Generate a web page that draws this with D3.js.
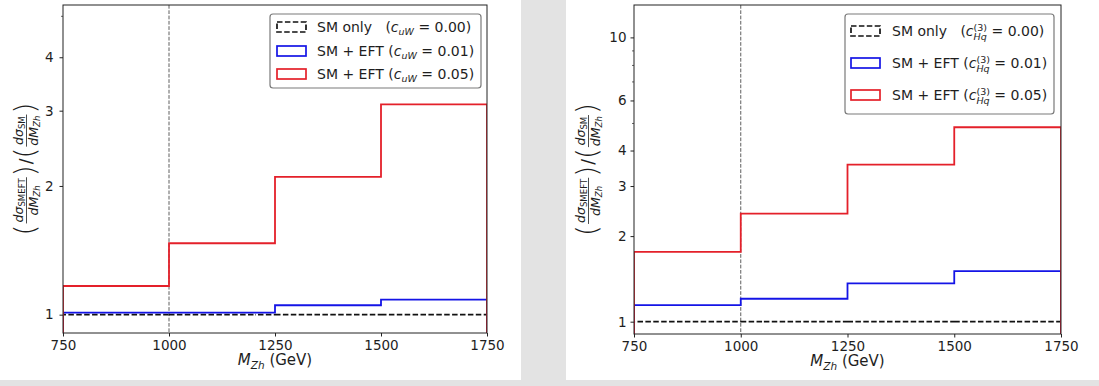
<!DOCTYPE html>
<html><head><meta charset="utf-8">
<script src="https://cdn.jsdelivr.net/npm/d3@7"></script>
<style>
html,body{margin:0;padding:0;background:#fff;}
svg{display:block;font-family:"DejaVu Sans",sans-serif;}
</style></head>
<body>
<svg id="chart" width="1099" height="386"></svg>
<script>
// ---------- data ----------
const binEdges = [750, 1000, 1250, 1500, 1750];
const xTicks = [750, 1000, 1250, 1500, 1750];
const cutLine = 1000;

const leftSM   = [1.0, 1.0, 1.0, 1.0];
const leftBlue = [1.011, 1.011, 1.052, 1.084];
const leftRed  = [1.167, 1.469, 2.10, 3.105];
const leftYTicks = [1, 2, 3, 4];
const leftYMinor = [5];
const leftYDomain = [0.906, 5.30];

const rightSM   = [1.0, 1.0, 1.0, 1.0];
const rightBlue = [1.144, 1.204, 1.364, 1.506];
const rightRed  = [1.761, 2.40, 3.57, 4.83];
const rightYTicks = [1, 2, 3, 4, 6, 10];
const rightYMinor = [5, 7, 8, 9];
const rightYDomain = [0.905, 13.0];

const legendLabels = ["SM only", "SM + EFT", "SM + EFT"];
const legendValues = ["0.00", "0.01", "0.05"];

// ---------- helpers ----------
const svg = d3.select("#chart");
const TXT = "#1e1e1e";

svg.append("rect").attr("x",0).attr("y",0).attr("width",1099).attr("height",386).attr("fill","#fff");
svg.append("rect").attr("x",521).attr("y",0).attr("width",45).attr("height",386).attr("fill","#e3e3e3");
svg.append("rect").attr("x",0).attr("y",380).attr("width",1099).attr("height",6).attr("fill","#e3e3e3");

function mathRun(g, x, y, pieces){
  let cx = x;
  let lastStart = x, lastW = 0;
  pieces.forEach(p=>{
    const sx = p.stack ? lastStart : cx;
    const t = g.append("text")
      .attr("x", sx).attr("y", y + (p.dy||0))
      .attr("font-size", p.size)
      .attr("font-style", p.italic ? "italic" : "normal")
      .attr("fill", TXT)
      .style("white-space","pre")
      .text(p.t);
    const w = t.node().getComputedTextLength();
    if (p.stack){
      cx = Math.max(lastStart + lastW, sx + w);
    } else {
      lastStart = sx; lastW = w;
      cx = sx + w;
    }
  });
  return cx;
}

function fraction(g, x, num, den){
  const ng = g.append("g"), dg = g.append("g");
  const nw = mathRun(ng, 0, -3.2, num);
  const dw = mathRun(dg, 0, 11.8, den);
  const w = Math.max(nw, dw) + 2;
  ng.attr("transform", `translate(${x + (w-nw)/2},0)`);
  dg.attr("transform", `translate(${x + (w-dw)/2},0)`);
  g.append("line").attr("x1", x).attr("x2", x+w).attr("y1",0.5).attr("y2",0.5)
    .attr("stroke", TXT).attr("stroke-width",0.8);
  return x + w;
}

function paren(g, x, ch){
  const t = g.append("text").attr("x", x).attr("y", 8.5)
    .attr("font-size", 28).attr("fill", TXT).attr("font-weight", 200)
    .text(ch);
  return x + t.node().getComputedTextLength();
}

function yLabel(cx, cy){
  const outer = svg.append("g").attr("transform", `translate(${cx},${cy}) rotate(-90)`);
  const g = outer.append("g");
  const S = 12.5, s = 8.6;
  let x = 0;
  x = paren(g, x, "(");
  x = fraction(g, x + 1,
    [{t:"dσ", size:S, italic:true},{t:"SMEFT", size:s, dy:2.5}],
    [{t:"dM", size:S, italic:true},{t:"Zh", size:s, italic:true, dy:2.5}]);
  x = paren(g, x + 1, ")");
  const sl = g.append("text").attr("x", x + 1).attr("y", 6).attr("font-size", 17).attr("fill", TXT).text("/");
  x = x + 1 + sl.node().getComputedTextLength();
  x = paren(g, x, "(");
  x = fraction(g, x + 1,
    [{t:"dσ", size:S, italic:true},{t:"SM", size:s, dy:2.5}],
    [{t:"dM", size:S, italic:true},{t:"Zh", size:s, italic:true, dy:2.5}]);
  x = paren(g, x + 1, ")");
  g.attr("transform", `translate(${-x/2},0)`);
}

function stepPath(x, y, vals, base){
  const pts = [[binEdges[0], base]];
  vals.forEach((v,i)=>{ pts.push([binEdges[i], v]); pts.push([binEdges[i+1], v]); });
  pts.push([binEdges[binEdges.length-1], base]);
  return d3.line().x(d=>x(d[0])).y(d=>y(d[1]))(pts);
}

function panel(cfg){
  const {x0,x1,y0,y1,domain,sm,blue,red,yTicks,yMinor,id,legend,ylx,labPad} = cfg;
  const x = d3.scaleLinear().domain([binEdges[0], binEdges[binEdges.length-1]]).range([x0,x1]);
  const y = d3.scaleLog().domain(domain).range([y1,y0]);
  const g = svg.append("g");
  svg.append("clipPath").attr("id", id).append("rect")
    .attr("x", x0).attr("y", y0).attr("width", x1-x0).attr("height", y1-y0);
  const pg = g.append("g").attr("clip-path", `url(#${id})`);

  pg.append("line").attr("x1", x(cutLine)).attr("x2", x(cutLine)).attr("y1", y0).attr("y2", y1)
    .attr("stroke", "#5e5e5e").attr("stroke-width", 1).attr("stroke-dasharray", "3.7,1.6");

  const base = domain[0];
  pg.append("path").attr("d", stepPath(x,y,sm,base)).attr("fill","none")
    .attr("stroke","#111").attr("stroke-width",1.8).attr("stroke-dasharray","5.5,2.4");
  pg.append("path").attr("d", stepPath(x,y,blue,base)).attr("fill","none")
    .attr("stroke","#1414e6").attr("stroke-width",1.8);
  pg.append("path").attr("d", stepPath(x,y,red,base)).attr("fill","none")
    .attr("stroke","#e4202a").attr("stroke-width",1.8);

  g.append("rect").attr("x", x0).attr("y", y0).attr("width", x1-x0).attr("height", y1-y0)
    .attr("fill","none").attr("stroke","#222").attr("stroke-width",1);

  const xa = g.append("g").attr("transform", `translate(0,${y1})`)
    .call(d3.axisBottom(x).tickValues(xTicks).tickFormat(d3.format("d")).tickSize(3.5).tickPadding(3.5));
  xa.select(".domain").remove();
  xa.selectAll("line").attr("stroke","#222").attr("stroke-width",1);
  xa.selectAll("text").attr("font-size",13.5).attr("fill",TXT).attr("font-family","DejaVu Sans");

  const ya = g.append("g").attr("transform", `translate(${x0},0)`)
    .call(d3.axisLeft(y).tickValues(yTicks).tickFormat(d3.format("d")).tickSize(3.5).tickPadding(labPad));
  ya.select(".domain").remove();
  ya.selectAll("line").attr("stroke","#222").attr("stroke-width",1);
  ya.selectAll("text").attr("font-size",13.5).attr("fill",TXT).attr("font-family","DejaVu Sans");
  const ym = g.append("g").attr("transform", `translate(${x0},0)`)
    .call(d3.axisLeft(y).tickValues(yMinor).tickFormat("").tickSize(2));
  ym.select(".domain").remove();
  ym.selectAll("line").attr("stroke","#222").attr("stroke-width",0.7);

  const xl = g.append("g");
  const w = mathRun(xl, 0, 0, [
    {t:"M", size:15, italic:true},
    {t:"Zh", size:10.5, italic:true, dy:3.5},
    {t:" (GeV)", size:15}
  ]);
  xl.attr("transform", `translate(${(x0+x1)/2 - w/2},${cfg.xlY})`);

  yLabel(ylx, (y0+y1)/2);

  const L = legend;
  g.append("rect").attr("x", L.x).attr("y", L.y).attr("width", L.w).attr("height", L.h)
    .attr("rx", 3).attr("fill","#fff").attr("stroke","#7a7a7a").attr("stroke-width",1.2);
  const colors = ["#111", "#1414e6", "#e4202a"];
  legendLabels.forEach((lab,i)=>{
    const cy = L.rows[i];
    g.append("rect").attr("x", L.px).attr("y", cy-5).attr("width", 29).attr("height", 10)
      .attr("fill","none").attr("stroke", colors[i]).attr("stroke-width",1.7)
      .attr("stroke-dasharray", i===0 ? "5.5,2.4" : null);
    const tg = g.append("g");
    let pieces;
    const head = i===0 ? lab + "   (" : lab + " (";
    if (L.kind === "uW"){
      pieces = [{t:head, size:14},{t:"c", size:14, italic:true},{t:"uW", size:9.5, italic:true, dy:3},
                {t:" = " + legendValues[i] + ")", size:14}];
    } else {
      pieces = [{t:head, size:14},{t:"c", size:14, italic:true},{t:"(3)", size:9.5, dy:-5.5},
                {t:"Hq", size:9.5, italic:true, dy:4, stack:true},
                {t:" = " + legendValues[i] + ")", size:14}];
    }
    mathRun(tg, L.tx, cy + 5, pieces);
  });
}

panel({id:"clipL", x0:63, x1:487, y0:5, y1:333, domain:leftYDomain,
  sm:leftSM, blue:leftBlue, red:leftRed, yTicks:leftYTicks, yMinor:leftYMinor,
  xlY:365, ylx:26, labPad:6,
  legend:{kind:"uW", x:270, y:14, w:211, h:74, rows:[27,51,74], px:277, tx:317}});

panel({id:"clipR", x0:634, x1:1061, y0:5, y1:334, domain:rightYDomain,
  sm:rightSM, blue:rightBlue, red:rightRed, yTicks:rightYTicks, yMinor:rightYMinor,
  xlY:366, ylx:588, labPad:4,
  legend:{kind:"Hq", x:845, y:14, w:209, h:100, rows:[31,63,95], px:851, tx:892}});
</script>
</body></html>
